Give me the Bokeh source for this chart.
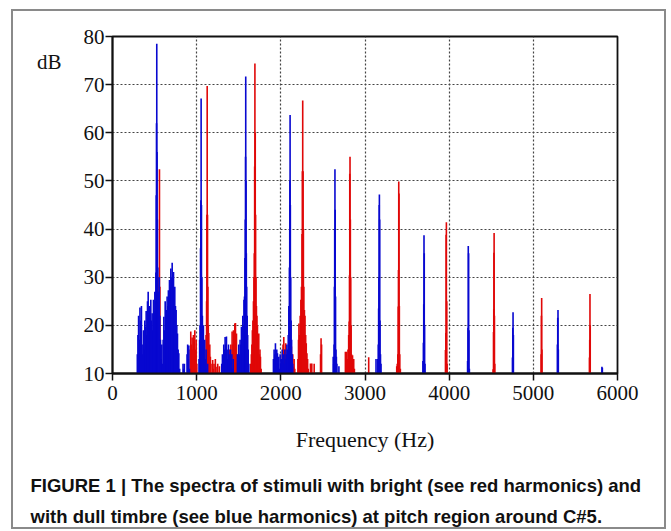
from bokeh.plotting import figure
from bokeh.models import Range1d, FixedTicker, ColumnDataSource, Title, LinearAxis
from bokeh.embed import file_html
from bokeh.resources import INLINE

# ---- data (frequency in Hz, level in dB) ----
blue_freq = [285, 295, 302, 310, 318, 326, 336, 344, 352, 360, 368, 376, 384, 392, 400, 408, 416, 424, 432, 440,
             448, 455, 463, 471, 479, 487, 495, 503, 510, 516, 520, 523, 526, 529, 533, 538, 544, 550, 556, 562,
             570, 578, 586, 594, 602, 610, 618, 626, 634, 641, 649, 657, 664, 671, 677, 685, 693, 701, 709, 717,
             725, 733, 740, 748, 756, 764, 772, 780, 788, 798, 808,
             838, 846, 854, 886, 893, 900, 907, 914,
             1028, 1035, 1040, 1046, 1050, 1053, 1057, 1062, 1068, 1074, 1080, 1088, 1095, 1103, 1112, 1120, 1130,
             1298, 1306, 1314, 1322, 1330, 1338, 1346, 1354, 1362, 1370, 1378, 1386, 1394, 1402, 1410, 1418, 1426, 1434,
             1484, 1492, 1500, 1508, 1516, 1524, 1532, 1540, 1548, 1555, 1562, 1568, 1574, 1578, 1581, 1583, 1586,
             1590, 1594, 1600, 1606, 1612, 1620,
             1912, 1920, 1928, 1936, 1944, 1952, 1960, 1968, 1976, 1984, 1992, 2000, 2008, 2016, 2024, 2032, 2040,
             2048, 2056, 2064, 2072, 2080, 2088, 2095, 2102, 2106, 2108, 2110, 2113, 2117, 2122, 2128, 2135, 2142,
             2622, 2628, 2633, 2637, 2640, 2643, 2646, 2650, 2655, 2660, 2666, 2690,
             3131, 3152, 3158, 3162, 3166, 3169, 3171, 3174, 3178, 3184, 3190,
             3688, 3694, 3698, 3701, 3704, 3708, 3713,
             4219, 4224, 4227, 4231, 4235, 4240,
             4752, 4756, 4759, 4763,
             5286, 5290, 5293, 5297,
             5815, 5820]
blue_db = [10, 14, 18, 22, 17, 23.7, 21, 24, 16, 14, 19, 15, 21, 19.7, 23, 18, 25, 27, 22, 24,
           20, 25.3, 21, 22.5, 19, 25.3, 23, 27, 25, 31, 47, 62, 78.5, 56, 42, 32, 27, 25, 30, 22,
           17, 13, 16, 12, 17, 21.8, 19, 25, 21, 23.2, 26, 24, 27.3, 25, 29.4, 28, 31.8, 30, 33, 31,
           31.1, 27, 28, 24, 23.2, 20, 18.3, 15, 14.2, 11, 10,
           12, 11, 12, 14, 16, 13, 15.8, 11,
           13, 17, 20, 36, 46, 67.1, 45, 30, 22, 19, 20, 16, 17, 13, 15, 11, 12,
           12, 14, 13, 16, 15, 17.6, 16, 17.7, 15, 13, 16, 14, 12, 15, 13, 14, 11, 13,
           14, 12, 16, 14, 17, 16, 19.7, 18, 22, 20, 25.3, 26, 34, 42, 55, 71.7, 50,
           35, 28, 22, 18, 15, 12,
           13, 15, 14, 16.3, 13, 15, 14.2, 12, 13.5, 11, 14, 12, 13, 15, 13, 14, 12,
           15, 13, 14, 16, 15, 18, 24, 32, 40, 50, 63.7, 45, 30, 21, 17, 14, 12,
           13.5, 12, 16, 28, 40, 52.4, 44, 26, 15, 13.5, 12, 11.5,
           13, 13, 16, 23.5, 30, 45, 47.2, 42, 21, 14, 12,
           12.6, 16.4, 24.4, 38.7, 35, 20, 12,
           12.6, 19.5, 36.5, 35, 19, 11,
           13.3, 19.5, 22.7, 18,
           16, 21.6, 23.2, 15,
           11.4, 11.2]

red_freq = [548, 553, 558, 563, 568,
            922, 930, 938, 946, 954, 962, 970, 978, 986, 994, 1002,
            1106, 1112, 1118, 1122, 1125, 1129, 1133, 1138, 1144, 1150, 1156, 1163, 1170,
            1190, 1198, 1206, 1222, 1230, 1250, 1270,
            1382, 1390, 1398, 1406, 1414, 1421, 1429, 1437, 1445, 1453, 1461, 1467, 1473, 1480, 1488,
            1642, 1650, 1656, 1662, 1668, 1675, 1681, 1685, 1689, 1692, 1696, 1700, 1705, 1710, 1716, 1722,
            1730, 1738, 1746, 1752, 1758, 1766,
            2018, 2026, 2035, 2042, 2050, 2058, 2066,
            2118, 2126, 2134, 2142, 2150, 2158, 2166,
            2203, 2210, 2215, 2222, 2230, 2238, 2245, 2252, 2256, 2260, 2264, 2268, 2273, 2280, 2287, 2295,
            2302, 2310, 2318, 2326,
            2352, 2368, 2396, 2472, 2478, 2484,
            2767, 2775, 2782, 2790, 2798, 2806, 2812, 2816, 2819, 2822, 2826, 2830, 2835, 2840, 2846, 2852,
            2858, 2866, 2874,
            3044,
            3377, 3383, 3390, 3395, 3398, 3401, 3404, 3408, 3413, 3420,
            3956, 3961, 3964, 3967, 3971, 3975,
            4522, 4527, 4530, 4532, 4534, 4538, 4542,
            5093, 5096, 5099, 5102,
            5667, 5670, 5673, 5676]
red_db = [10, 30, 52.4, 28, 10,
          15, 18.7, 16, 17.5, 15, 18, 16.5, 19, 15, 17, 12,
          13, 18, 25, 43, 69.7, 43, 28, 20, 18.4, 14, 16, 13.5, 12,
          12.8, 11, 12, 13, 11.4, 12, 11.5,
          13, 15, 12, 16, 14, 18.7, 16, 19, 17, 20.4, 20.5, 17, 18.3, 14, 12,
          12, 14, 16, 19, 21, 25, 30, 35, 53, 74.4, 60, 43, 30, 24, 22, 20,
          17, 18.3, 14, 15, 13.5, 11,
          14, 16, 17.6, 13, 15, 16.3, 12,
          13, 15.6, 12, 14, 11.4, 13, 11,
          13, 17, 20.4, 18, 22, 25.3, 28, 39, 52, 66.7, 52, 40, 28, 23.2, 22, 18,
          16.3, 14.2, 13, 11,
          12.1, 12.1, 12, 14, 17.3, 16,
          14.5, 12, 14.5, 13, 15, 18, 20.8, 30.4, 51.5, 55, 42, 30, 20, 14, 13, 13.8,
          12, 13, 11,
          13.4,
          11.5, 12, 14, 23.9, 31.5, 49.9, 47.4, 24, 14, 11,
          14.9, 18.4, 38.8, 41.4, 25, 12,
          10.9, 18.6, 23.4, 35.1, 39.2, 22, 12,
          14, 22, 25.7, 15,
          13.3, 17, 26.5, 20]

x_ticks = [0, 1000, 2000, 3000, 4000, 5000, 6000]
y_ticks = [10, 20, 30, 40, 50, 60, 70, 80]
x_title = "Frequency (Hz)"
y_title = "dB"
y_title_at = 74.6
caption_1 = "FIGURE 1 | The spectra of stimuli with bright (see red harmonics) and"
caption_2 = "with dull timbre (see blue harmonics) at pitch region around C#5."

SERIF = "Liberation Serif"
INK = "#111111"

p = figure(width=655, height=520, output_backend="svg", toolbar_location=None,
           x_range=Range1d(x_ticks[0], x_ticks[-1]), y_range=Range1d(y_ticks[0], y_ticks[-1]),
           min_border_left=99, min_border_right=51, min_border_top=25, min_border_bottom=158)
p.styles = {"margin-left": "11px", "margin-top": "9px", "border": "2px solid #8a8a8a"}
p.background_fill_color = "white"
p.border_fill_color = "white"
p.outline_line_color = INK
p.outline_line_width = 1.8

red_src = ColumnDataSource(dict(f=red_freq, db=red_db))
blue_src = ColumnDataSource(dict(f=blue_freq, db=blue_db))
base = y_ticks[0]
p.segment(x0="f", y0=base, x1="f", y1="db", source=red_src, line_color="#e00808", line_width=1.6)
p.segment(x0="f", y0=base, x1="f", y1="db", source=blue_src, line_color="#0808d0", line_width=1.6)

for ax, ticks in ((p.xaxis, x_ticks), (p.yaxis, y_ticks)):
    ax.ticker = FixedTicker(ticks=ticks)
    ax.axis_line_color = INK
    ax.axis_line_width = 1.8
    ax.major_tick_line_color = INK
    ax.major_tick_line_width = 1.5
    ax.major_tick_in = 0
    ax.major_tick_out = 7
    ax.minor_tick_line_color = None
    ax.major_label_text_font = SERIF
    ax.major_label_text_font_size = "21px"
    ax.major_label_text_color = INK

p.xaxis.major_label_standoff = 5
p.yaxis.major_label_standoff = 1
p.xaxis.axis_label = x_title
p.xaxis.axis_label_text_font = SERIF
p.xaxis.axis_label_text_font_size = "22px"
p.xaxis.axis_label_text_font_style = "normal"
p.xaxis.axis_label_text_color = INK
p.xaxis.axis_label_standoff = 24

# "dB" unit label at the top left, as a tick-less outer axis
db_axis = LinearAxis(ticker=FixedTicker(ticks=[y_title_at]),
                     major_label_overrides={y_title_at: y_title},
                     axis_line_color=None, major_tick_line_color=None, minor_tick_line_color=None,
                     major_tick_in=0, major_tick_out=0, minor_tick_in=0, minor_tick_out=0,
                     major_label_standoff=19, major_label_text_font=SERIF,
                     major_label_text_font_size="21px", major_label_text_color=INK)
p.add_layout(db_axis, "left")

p.xgrid.ticker = FixedTicker(ticks=x_ticks)
p.ygrid.ticker = FixedTicker(ticks=y_ticks)
for g in (p.xgrid, p.ygrid):
    g.grid_line_color = "#444444"
    g.grid_line_width = 1.2
    g.grid_line_dash = "2 2"

t1 = Title(text=caption_1, align="left", offset=-82, standoff=37,
           text_font="Liberation Sans", text_font_style="bold", text_font_size="18.5px", text_color=INK)
t2 = Title(text=caption_2, align="left", offset=-82, standoff=-24,
           text_font="Liberation Sans", text_font_style="bold", text_font_size="18.5px", text_color=INK)
p.add_layout(t1, "below")
p.add_layout(t2, "below")

open("out.html", "w").write(file_html(p, INLINE))
